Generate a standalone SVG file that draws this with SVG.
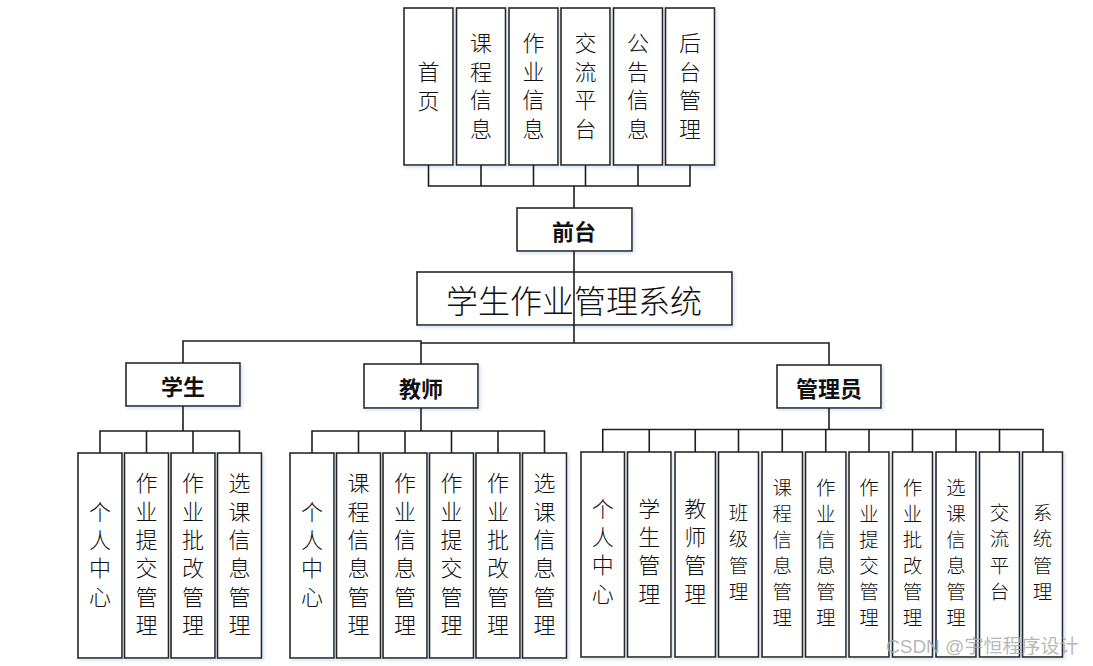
<svg xmlns="http://www.w3.org/2000/svg" width="1093" height="666" viewBox="0 0 1093 666">
<style>
.box{fill:#fff;stroke:#262626;stroke-width:1.6;filter:url(#sh)}
.ln{fill:none;stroke:#1e1e1e;stroke-width:1.6}
.v{font-family:"Noto Sans CJK SC","Noto Sans CJK JP",sans-serif;font-size:22px;font-weight:300;fill:#111;text-anchor:middle;writing-mode:vertical-rl;letter-spacing:6.4px}
.vs{font-size:19.5px;letter-spacing:7px}
.vs6{font-size:19.5px;letter-spacing:6.5px}
.vt{letter-spacing:6.8px}
.h{font-family:"Noto Sans CJK SC",sans-serif;font-size:22px;font-weight:bold;fill:#111;text-anchor:middle;dominant-baseline:central}
.t{font-family:"Noto Sans CJK SC",sans-serif;font-size:32px;font-weight:300;fill:#111;text-anchor:middle;dominant-baseline:central}
.wm{font-family:"Liberation Sans","Noto Sans CJK SC",sans-serif;font-size:19px;fill:#aaa;fill-opacity:0.85}
</style>
<defs>
<filter id="sh" x="-20%" y="-20%" width="140%" height="140%">
<feDropShadow dx="2" dy="2" stdDeviation="1.5" flood-color="#b8c8e8" flood-opacity="0.5"/>
</filter>
</defs>
<rect width="1093" height="666" fill="#fff"/>

<g id="front-children">
<g id="n-shouye"><rect class="box" x="404" y="8" width="49" height="157"/><text class="v vt" x="428.5" y="89.5">首页</text></g>
<g id="n-kcxx"><rect class="box" x="456.5" y="8" width="49" height="157"/><text class="v vt" x="481" y="89">课程信息</text></g>
<g id="n-zyxx"><rect class="box" x="509" y="8" width="49" height="157"/><text class="v vt" x="533.5" y="89">作业信息</text></g>
<g id="n-jlpt"><rect class="box" x="561" y="8" width="49" height="157"/><text class="v vt" x="585.5" y="89">交流平台</text></g>
<g id="n-ggxx"><rect class="box" x="613.5" y="8" width="49" height="157"/><text class="v vt" x="638" y="89">公告信息</text></g>
<g id="n-htgl"><rect class="box" x="665.5" y="8" width="49" height="157"/><text class="v vt" x="690" y="89">后台管理</text></g>
</g>

<g id="n-qiantai"><rect class="box" x="517" y="208" width="115" height="43"/><text class="h" x="574" y="229.5">前台</text></g>
<g id="n-system"><rect class="box" x="417" y="272" width="315" height="53"/><text class="t" x="574" y="298.5">学生作业管理系统</text></g>
<g id="n-student"><rect class="box" x="126" y="363" width="114" height="43"/><text class="h" x="183" y="385">学生</text></g>
<g id="n-teacher"><rect class="box" x="364" y="364" width="114" height="44"/><text class="h" x="421" y="386.5">教师</text></g>
<g id="n-admin"><rect class="box" x="777" y="365" width="104" height="43"/><text class="h" x="829" y="386.5">管理员</text></g>

<g id="student-children">
<g id="s1"><rect class="box" x="78" y="453" width="44" height="205"/><text class="v" x="100" y="557">个人中心</text></g>
<g id="s2"><rect class="box" x="124.5" y="453" width="44" height="205"/><text class="v" x="146.5" y="557">作业提交管理</text></g>
<g id="s3"><rect class="box" x="171" y="453" width="44" height="205"/><text class="v" x="193" y="557">作业批改管理</text></g>
<g id="s4"><rect class="box" x="217.5" y="453" width="44" height="205"/><text class="v" x="239.5" y="557">选课信息管理</text></g>
</g>

<g id="teacher-children">
<g id="t1"><rect class="box" x="290" y="453" width="44" height="205"/><text class="v" x="312" y="557">个人中心</text></g>
<g id="t2"><rect class="box" x="336.5" y="453" width="44" height="205"/><text class="v" x="358.5" y="557">课程信息管理</text></g>
<g id="t3"><rect class="box" x="383" y="453" width="44" height="205"/><text class="v" x="405" y="557">作业信息管理</text></g>
<g id="t4"><rect class="box" x="429.5" y="453" width="44" height="205"/><text class="v" x="451.5" y="557">作业提交管理</text></g>
<g id="t5"><rect class="box" x="476" y="453" width="44" height="205"/><text class="v" x="498" y="557">作业批改管理</text></g>
<g id="t6"><rect class="box" x="522.5" y="453" width="44" height="205"/><text class="v" x="544.5" y="557">选课信息管理</text></g>
</g>

<g id="admin-children">
<g id="a1"><rect class="box" x="581" y="452" width="43.5" height="205"/><text class="v" x="602.75" y="554">个人中心</text></g>
<g id="a2"><rect class="box" x="627.5" y="452" width="43.5" height="205"/><text class="v" x="649.25" y="554">学生管理</text></g>
<g id="a3"><rect class="box" x="675" y="452" width="40.5" height="205"/><text class="v" x="695.25" y="554">教师管理</text></g>
<g id="a4"><rect class="box" x="718.5" y="452" width="40" height="205"/><text class="v vs" x="738.5" y="555.5">班级管理</text></g>
<g id="a5"><rect class="box" x="762" y="452" width="40.5" height="205"/><text class="v vs6" x="782.25" y="556">课程信息管理</text></g>
<g id="a6"><rect class="box" x="805.5" y="452" width="40.5" height="205"/><text class="v vs6" x="825.75" y="556">作业信息管理</text></g>
<g id="a7"><rect class="box" x="849" y="452" width="40" height="205"/><text class="v vs6" x="869" y="556">作业提交管理</text></g>
<g id="a8"><rect class="box" x="892.5" y="452" width="40" height="205"/><text class="v vs6" x="912.5" y="556">作业批改管理</text></g>
<g id="a9"><rect class="box" x="936" y="452" width="40" height="205"/><text class="v vs6" x="956" y="556">选课信息管理</text></g>
<g id="a10"><rect class="box" x="979.5" y="452" width="40" height="205"/><text class="v vs" x="999.5" y="555.5">交流平台</text></g>
<g id="a11"><rect class="box" x="1022.5" y="452" width="40" height="205"/><text class="v vs" x="1042.5" y="555.5">系统管理</text></g>
</g>

<g id="connectors" class="ln">
<path class="ln" d="M428.5,165V186H690V165M481,165V186M533.5,165V186M585.5,165V186M638,165V186M574,186V208"/>
<path class="ln" d="M574,251V343"/>
<path class="ln" d="M183,363V341H421V364M421,343H829V365"/>
<path class="ln" d="M183,406V431M100,453V431H239.5V453M146.5,431V453M193,431V453"/>
<path class="ln" d="M421,408V431M312,453V431H544.5V453M358.5,431V453M405,431V453M451.5,431V453M498,431V453"/>
<path class="ln" d="M829,408V429.5M602.75,452V429.5H1043V452M649.25,429.5V452M695.25,429.5V452M738.5,429.5V452M782.25,429.5V452M825.75,429.5V452M869,429.5V452M912.5,429.5V452M956,429.5V452M999.5,429.5V452"/>
</g>

<text class="wm" x="886" y="653">CSDN @宇恒程序设计</text>
</svg>
